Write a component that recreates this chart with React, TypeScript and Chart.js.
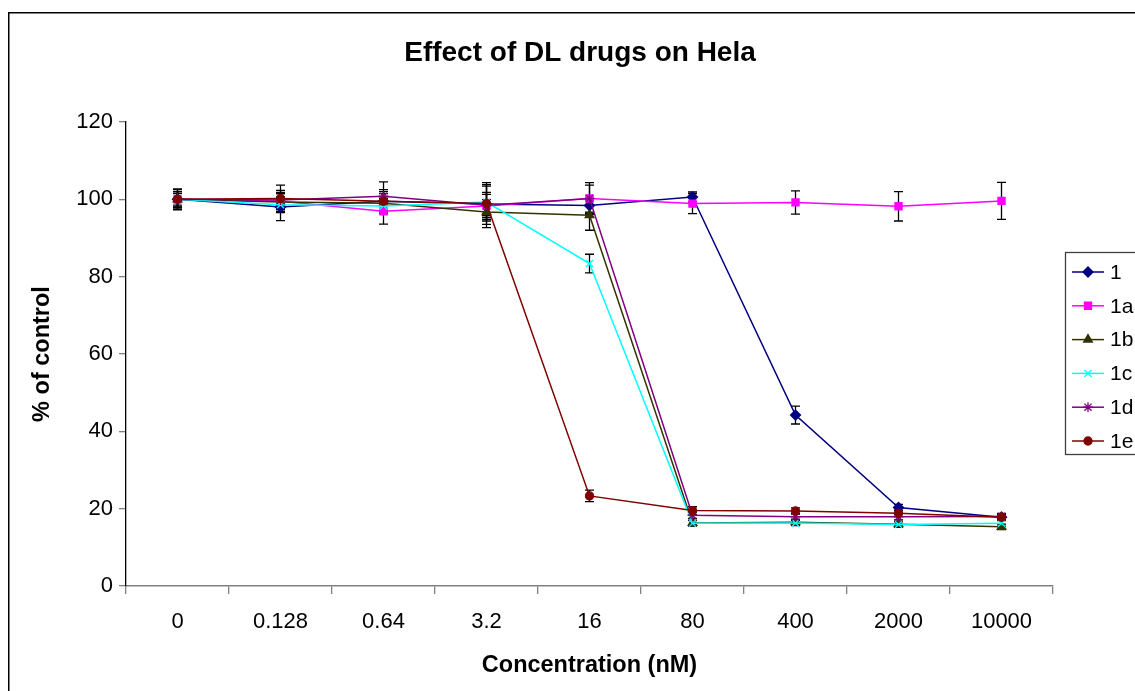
import React, { useEffect, useRef } from 'react';
import { Chart, registerables } from 'chart.js';
import { drawPoint } from 'chart.js/helpers';

Chart.register(...registerables);

const FONT = "'Liberation Sans', Arial, sans-serif";

const categories = ['0', '0.128', '0.64', '3.2', '16', '80', '400', '2000', '10000'];

const seriesNames = ['1', '1a', '1b', '1c', '1d', '1e'];
const seriesColors = ['#000080', '#FF00FF', '#333300', '#00FFFF', '#800080', '#800000'];
const seriesMarkers = ['rectRot', 'rect', 'triangle', 'crossRot', 'star', 'circle'];
const markerRadius = [5, 5, 5, 5, 5, 4];

const values1 = [100, 98, 99.5, 98.8, 98.4, 100.6, 44.2, 20.3, 17.8];
const values1a = [100, 99.5, 96.9, 98.3, 100.2, 98.9, 99.2, 98.2, 99.6];
const values1b = [100, 99.3, 99, 96.7, 95.9, 16.3, 16.5, 16, 15.3];
const values1c = [100, 98.6, 98.3, 99.3, 83.4, 16.2, 16.3, 15.9, 16.2];
const values1d = [100, 99.8, 100.8, 98.5, 100.2, 18.3, 17.9, 17.9, 18];
const values1e = [100, 100.2, 99.5, 98.9, 23.3, 19.5, 19.4, 18.8, 17.8];

const errors1 = [2, 3.5, 2.5, 3, 2, 1.3, 2.3, 0.8, 0.8];
const errors1a = [1.5, 2, 3.3, 3, 3.5, 2.6, 3, 3.8, 4.8];
const errors1b = [2, 2.5, 2.5, 3.2, 3.9, 0.7, 0.8, 0.7, 0.7];
const errors1c = [2, 2, 2, 4.5, 2.4, 0.7, 0.7, 0.7, 0.7];
const errors1d = [2.7, 2.5, 3.7, 5.8, 4.1, 0.8, 0.8, 0.8, 0.8];
const errors1e = [2.5, 3.5, 3, 4.5, 1.5, 1, 0.8, 0.8, 0.8];

const yTicks = [0, 20, 40, 60, 80, 100, 120];

const seriesValues = [values1, values1a, values1b, values1c, values1d, values1e];
const seriesErrors = [errors1, errors1a, errors1b, errors1c, errors1d, errors1e];

const backgroundPlugin = {
  id: 'frame',
  beforeDraw(chart: any) {
    const ctx = chart.ctx;
    ctx.save();
    ctx.fillStyle = '#ffffff';
    ctx.fillRect(0, 0, chart.width, chart.height);
    ctx.strokeStyle = '#000000';
    ctx.lineWidth = 1.5;
    ctx.strokeRect(8.75, 12.75, 1400, 1000);
    ctx.restore();
  },
};

const errorBarPlugin = {
  id: 'errorBars',
  beforeDatasetsDraw(chart: any) {
    const ctx = chart.ctx;
    const y = chart.scales.y;
    ctx.save();
    ctx.strokeStyle = '#000000';
    ctx.lineWidth = 1.3;
    chart.data.datasets.forEach((ds: any, i: number) => {
      const meta = chart.getDatasetMeta(i);
      const errs = seriesErrors[i];
      meta.data.forEach((pt: any, j: number) => {
        const v = ds.data[j];
        const e = errs[j];
        const top = y.getPixelForValue(v + e);
        const bot = y.getPixelForValue(v - e);
        const x = pt.x;
        ctx.beginPath();
        ctx.moveTo(x, top);
        ctx.lineTo(x, bot);
        ctx.moveTo(x - 4.5, top);
        ctx.lineTo(x + 4.5, top);
        ctx.moveTo(x - 4.5, bot);
        ctx.lineTo(x + 4.5, bot);
        ctx.stroke();
      });
    });
    ctx.restore();
  },
};

const legendPlugin = {
  id: 'boxLegend',
  afterDraw(chart: any) {
    const ctx = chart.ctx;
    ctx.save();
    ctx.strokeStyle = '#404040';
    ctx.lineWidth = 1.3;
    ctx.strokeRect(1065.5, 252.5, 300, 202);
    ctx.font = `21px ${FONT}`;
    ctx.textBaseline = 'middle';
    ctx.textAlign = 'left';
    chart.data.datasets.forEach((ds: any, i: number) => {
      const yy = 272 + i * 33.8;
      ctx.strokeStyle = ds.borderColor;
      ctx.lineWidth = 1.5;
      ctx.beginPath();
      ctx.moveTo(1072, yy);
      ctx.lineTo(1104, yy);
      ctx.stroke();
      ctx.fillStyle = ds.pointBackgroundColor;
      ctx.strokeStyle = ds.pointBorderColor;
      ctx.lineWidth = 1.3;
      drawPoint(ctx, { pointStyle: ds.pointStyle, radius: ds.pointRadius, rotation: 0, borderWidth: 1.3 }, 1088, yy);
      ctx.fillStyle = '#000000';
      ctx.fillText(ds.label, 1110, yy + 1);
    });
    ctx.restore();
  },
};

export default function App() {
  const canvasRef = useRef<HTMLCanvasElement | null>(null);

  useEffect(() => {
    const canvas = canvasRef.current;
    if (!canvas) return;
    const datasets = seriesNames.map((name, i) => ({
      label: name,
      data: seriesValues[i],
      borderColor: seriesColors[i],
      backgroundColor: seriesColors[i],
      pointBackgroundColor: seriesColors[i],
      pointBorderColor: seriesColors[i],
      pointStyle: seriesMarkers[i],
      pointRadius: markerRadius[i],
      pointBorderWidth: 1.3,
      borderWidth: 1.5,
      tension: 0,
      fill: false,
      order: 5 - i,
      clip: false as any,
    }));

    const chart = new Chart(canvas, {
      type: 'line',
      data: { labels: categories, datasets },
      options: {
        animation: false,
        responsive: false,
        devicePixelRatio: 1,
        layout: { padding: { left: 25, right: 0, top: 0, bottom: 0 } },
        plugins: {
          legend: { display: false },
          tooltip: { enabled: false },
          title: {
            display: true,
            text: 'Effect of DL drugs on Hela',
            color: '#000000',
            font: { family: FONT, size: 28, weight: 'bold', lineHeight: 1.2 },
            padding: { top: 36.2, bottom: 52.2 },
          },
        },
        scales: {
          x: {
            type: 'category',
            offset: true,
            grid: { offset: true, drawOnChartArea: false, drawTicks: true, tickLength: 8, color: '#808080', lineWidth: 1.3 },
            border: { display: true, color: '#808080', width: 1.5 },
            ticks: { color: '#000000', font: { family: FONT, size: 22 }, padding: 15, maxRotation: 0, autoSkip: false },
            title: {
              display: true,
              text: 'Concentration (nM)',
              color: '#000000',
              font: { family: FONT, size: 23.5, weight: 'bold', lineHeight: 1.2 },
              padding: { top: 0, bottom: 10.9 },
            },
            afterFit: (s: any) => { s.height = 105; },
          },
          y: {
            min: 0,
            max: 120,
            afterBuildTicks: (s: any) => { s.ticks = yTicks.map((v) => ({ value: v })); },
            grid: { drawOnChartArea: false, drawTicks: true, tickLength: 7, color: '#808080', lineWidth: 1.3 },
            border: { display: true, color: '#000000', width: 1.3 },
            ticks: { color: '#000000', font: { family: FONT, size: 22 }, padding: 6 },
            title: {
              display: true,
              text: '% of control',
              color: '#000000',
              font: { family: FONT, size: 23.5, weight: 'bold', lineHeight: 1.2 },
              padding: { top: 3.9, bottom: 0 },
            },
            afterFit: (s: any) => { s.width = 101; },
          },
          yRight: {
            position: 'right',
            display: true,
            min: 0,
            max: 120,
            grid: { display: false, drawTicks: false },
            border: { display: false },
            ticks: { display: false },
            afterFit: (s: any) => { s.width = 82; },
          },
        },
      } as any,
      plugins: [backgroundPlugin, errorBarPlugin, legendPlugin],
    });

    return () => chart.destroy();
  }, []);

  return (
    <div style={{ position: 'absolute', left: 0, top: 0, width: 1135, height: 691, background: '#ffffff' }}>
      <canvas ref={canvasRef} width={1135} height={691} style={{ display: 'block', width: 1135, height: 691 }} />
    </div>
  );
}
